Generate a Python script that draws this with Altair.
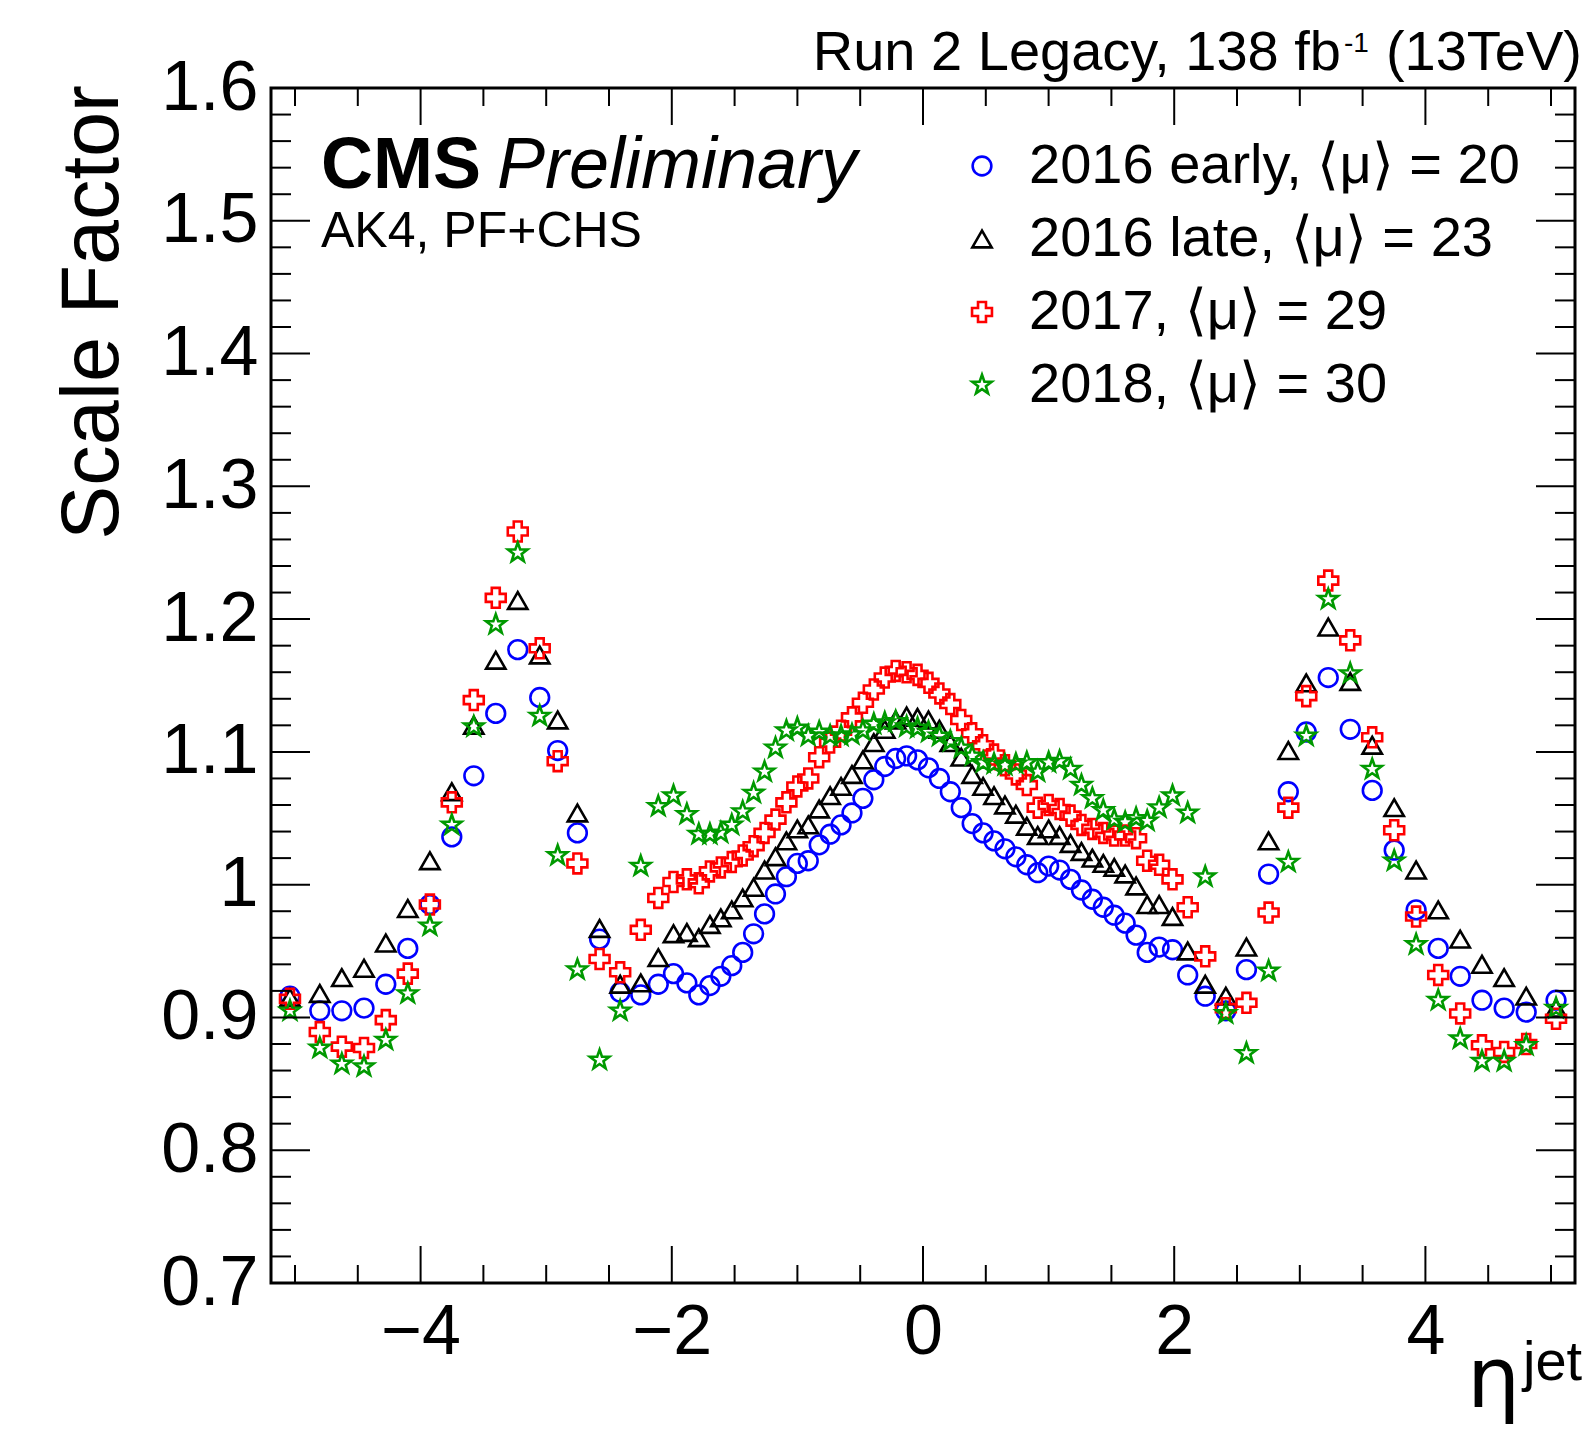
import altair as alt
import pandas as pd

# ---------------- data ----------------
ETA_EDGES = [0, 0.087, 0.174, 0.261, 0.348, 0.435, 0.522, 0.609, 0.696, 0.783,
             0.870, 0.957, 1.044, 1.131, 1.218, 1.305, 1.392, 1.479, 1.566, 1.653,
             1.740, 1.830, 1.930, 2.043, 2.172, 2.322, 2.500, 2.650, 2.853, 2.964,
             3.139, 3.314, 3.489, 3.664, 3.839, 4.013, 4.191, 4.363, 4.538, 4.716,
             4.889, 5.191]

SERIES = ["2016 early, \u27e8\u03bc\u27e9 = 20", "2016 late, \u27e8\u03bc\u27e9 = 23",
          "2017, \u27e8\u03bc\u27e9 = 29", "2018, \u27e8\u03bc\u27e9 = 30"]
COLORS = ["#0000ff", "#000000", "#ff0000", "#009900"]

# values ordered from eta = -5.04 to eta = +5.04
SF_2016_EARLY = [
    0.916, 0.905, 0.905, 0.907, 0.925, 0.952, 0.985, 1.036, 1.082, 1.129, 1.177,
    1.141, 1.101, 1.039, 0.959, 0.919, 0.917, 0.925, 0.933, 0.926, 0.917, 0.924,
    0.931, 0.939, 0.949, 0.963, 0.978, 0.993, 1.006, 1.016, 1.018, 1.030, 1.038,
    1.045, 1.054, 1.065, 1.079, 1.089, 1.095, 1.097, 1.094,
    1.088, 1.080, 1.070, 1.058, 1.046, 1.039, 1.033, 1.027, 1.021, 1.015, 1.009,
    1.014, 1.011, 1.004, 0.996, 0.989, 0.983, 0.977, 0.971, 0.962, 0.949, 0.953,
    0.951, 0.932, 0.916, 0.905, 0.936, 1.008, 1.070, 1.115, 1.156, 1.117, 1.071,
    1.026, 0.981, 0.952, 0.931, 0.913, 0.907, 0.904, 0.913]

SF_2016_LATE = [
    0.915, 0.918, 0.930, 0.937, 0.956, 0.982, 1.018, 1.070, 1.120, 1.169, 1.214,
    1.173, 1.124, 1.054, 0.967, 0.925, 0.926, 0.945, 0.963, 0.964, 0.960, 0.970,
    0.975, 0.981, 0.990, 0.998, 1.011, 1.021, 1.033, 1.042, 1.045, 1.057, 1.067,
    1.074, 1.083, 1.094, 1.107, 1.117, 1.124, 1.127, 1.126,
    1.124, 1.117, 1.107, 1.096, 1.083, 1.074, 1.067, 1.060, 1.053, 1.044, 1.037,
    1.042, 1.037, 1.031, 1.025, 1.020, 1.016, 1.013, 1.008, 0.999, 0.985, 0.985,
    0.976, 0.950, 0.925, 0.916, 0.953, 1.033, 1.101, 1.152, 1.194, 1.153, 1.105,
    1.058, 1.011, 0.981, 0.959, 0.940, 0.930, 0.916, 0.907]

SF_2017 = [
    0.914, 0.889, 0.878, 0.877, 0.898, 0.933, 0.985, 1.062, 1.139, 1.216, 1.266,
    1.178, 1.093, 1.016, 0.944, 0.934, 0.966, 0.990, 1.002, 1.004, 1.001, 1.010,
    1.013, 1.017, 1.022, 1.029, 1.039, 1.049, 1.062, 1.074, 1.080, 1.096, 1.107,
    1.116, 1.126, 1.137, 1.147, 1.156, 1.161, 1.160, 1.158,
    1.152, 1.144, 1.136, 1.124, 1.114, 1.105, 1.098, 1.090, 1.083, 1.075, 1.058,
    1.060, 1.057, 1.052, 1.045, 1.042, 1.039, 1.037, 1.037, 1.035, 1.018, 1.015,
    1.004, 0.983, 0.946, 0.907, 0.911, 0.979, 1.058, 1.142, 1.229, 1.184, 1.111,
    1.041, 0.976, 0.932, 0.903, 0.879, 0.874, 0.880, 0.899]

SF_2018 = [
    0.905, 0.877, 0.865, 0.863, 0.883, 0.918, 0.969, 1.045, 1.119, 1.196, 1.250,
    1.127, 1.022, 0.936, 0.868, 0.905, 1.014, 1.059, 1.067, 1.053, 1.038, 1.038,
    1.039, 1.045, 1.055, 1.069, 1.085, 1.103, 1.116, 1.118, 1.112, 1.115, 1.112,
    1.112, 1.113, 1.116, 1.121, 1.122, 1.123, 1.119, 1.118,
    1.115, 1.112, 1.108, 1.103, 1.097, 1.092, 1.091, 1.090, 1.091, 1.092, 1.085,
    1.092, 1.093, 1.087, 1.075, 1.065, 1.056, 1.049, 1.047, 1.050, 1.048, 1.058,
    1.067, 1.054, 1.006, 0.903, 0.873, 0.935, 1.017, 1.112, 1.215, 1.159, 1.087,
    1.018, 0.955, 0.913, 0.884, 0.867, 0.867, 0.879, 0.907]

X_LABELS = [-4, -2, 0, 2, 4]
Y_LABELS = [0.7, 0.8, 0.9, 1.0, 1.1, 1.2, 1.3, 1.4, 1.5, 1.6]
X_MINOR = [-5, -4.5, -3.5, -3, -2.5, -1.5, -1, -0.5, 0.5, 1, 1.5, 2.5, 3, 3.5, 4.5, 5]
Y_MINOR = [round(0.7 + 0.02 * i, 2) for i in range(1, 45) if i % 5 != 0]

# ---------------- table ----------------
centers = [(a + b) / 2 for a, b in zip(ETA_EDGES[:-1], ETA_EDGES[1:])]
ETA = [-c for c in reversed(centers)] + centers

rows = []
for name, vals in zip(SERIES, [SF_2016_EARLY, SF_2016_LATE, SF_2017, SF_2018]):
    for e, v in zip(ETA, vals):
        rows.append({"eta": e, "sf": v, "series": name})
df = pd.DataFrame(rows)
df["k"] = range(len(df))

# ---------------- style ----------------
FONT = "Liberation Sans"
W, H = 1304, 1195
STAR = ("M0,-1L0.235,-0.324L0.951,-0.309L0.380,0.124L0.588,0.809L0,0.4"
        "L-0.588,0.809L-0.380,0.124L-0.951,-0.309L-0.235,-0.324Z")
SHAPES = ["circle", "triangle-up", "cross", STAR]
SIZES = [350, 420, 400, 520]

xscale = alt.Scale(domain=[-5.191, 5.191], nice=False, zero=False)
yscale = alt.Scale(domain=[0.7, 1.6], nice=False, zero=False)

AX_X = alt.Axis(values=X_LABELS, ticks=False, tickSize=0, domain=False,
                grid=False, labelFontSize=70, labelFont=FONT,
                labelColor="black", labelPadding=15, title=None,
                labelFlush=False, labelOverlap=False)
AX_Y = alt.Axis(values=Y_LABELS, ticks=False, tickSize=0, domain=False,
                grid=False, labelFontSize=70, labelFont=FONT,
                labelColor="black", labelPadding=13, title=None,
                labelFlush=False, labelOverlap=False,
                labelExpr="datum.value == 1 ? '1' : format(datum.value, '.1f')")

legend = alt.Legend(title=None, orient="none", legendX=683, legendY=50,
                    labelFontSize=56, labelFont=FONT, labelColor="black",
                    labelLimit=0, symbolSize=300, symbolStrokeWidth=2.6,
                    rowPadding=17, labelOffset=19, padding=0)

points = alt.Chart(df).mark_point(filled=False, strokeWidth=2.6, opacity=1).encode(
    x=alt.X("eta:Q", scale=xscale, axis=AX_X),
    y=alt.Y("sf:Q", scale=yscale, axis=AX_Y),
    color=alt.Color("series:N", scale=alt.Scale(domain=SERIES, range=COLORS), legend=legend),
    shape=alt.Shape("series:N", scale=alt.Scale(domain=SERIES, range=SHAPES), legend=legend),
    size=alt.Size("series:N", scale=alt.Scale(domain=SERIES, range=SIZES), legend=None),
    order=alt.Order("k:Q"),
)


def xticks(vals, length):
    d = pd.DataFrame({"v": vals})
    base = alt.Chart(d).mark_rule(color="black", strokeWidth=2)
    bottom = base.encode(x=alt.X("v:Q", scale=xscale, axis=AX_X),
                         y=alt.value(H), y2=alt.value(H - length))
    top = base.encode(x=alt.X("v:Q", scale=xscale, axis=AX_X),
                      y=alt.value(0), y2=alt.value(length))
    return [bottom, top]


def yticks(vals, length):
    d = pd.DataFrame({"v": vals})
    base = alt.Chart(d).mark_rule(color="black", strokeWidth=2)
    left = base.encode(y=alt.Y("v:Q", scale=yscale, axis=AX_Y),
                       x=alt.value(0), x2=alt.value(length))
    right = base.encode(y=alt.Y("v:Q", scale=yscale, axis=AX_Y),
                        x=alt.value(W), x2=alt.value(W - length))
    return [left, right]


def txt(s, x, y, size, align="left", font=FONT, **kw):
    return alt.Chart(pd.DataFrame({"t": [s]})).mark_text(
        align=align, baseline="alphabetic", fontSize=size,
        font=font, color="black", **kw
    ).encode(text="t:N", x=alt.value(x), y=alt.value(y))


texts = [
    txt("CMS", 50, 100, 72, fontWeight="bold"),
    txt("Preliminary", 226, 100, 72, fontStyle="italic"),
    txt("AK4, PF+CHS", 50, 159, 50),
    txt("Run 2 Legacy, 138 fb", 1070, -18, 56, align="right"),
    txt("-1", 1073, -36, 28),
    txt("(13TeV)", 1311, -18, 56, align="right"),
    txt("\u03b7", 1196, 1319, 84, font="DejaVu Sans"),
    txt("jet", 1252, 1292, 56),
    txt("Scale Factor", -153, -3, 81, align="right", angle=270),
]

layers = [points] + xticks(X_LABELS, 37) + xticks(X_MINOR, 18) \
    + yticks(Y_LABELS, 39) + yticks(Y_MINOR, 20) + texts

chart = alt.layer(*layers).properties(
    width=W, height=H,
    autosize=alt.AutoSizeParams(type="none"),
    padding={"left": 263, "top": 80, "right": 8, "bottom": 146},
).configure(
    font=FONT,
    view=alt.ViewConfig(stroke="black", strokeWidth=3),
)

chart.save("out.html", embed_options={"renderer": "svg", "actions": False})
